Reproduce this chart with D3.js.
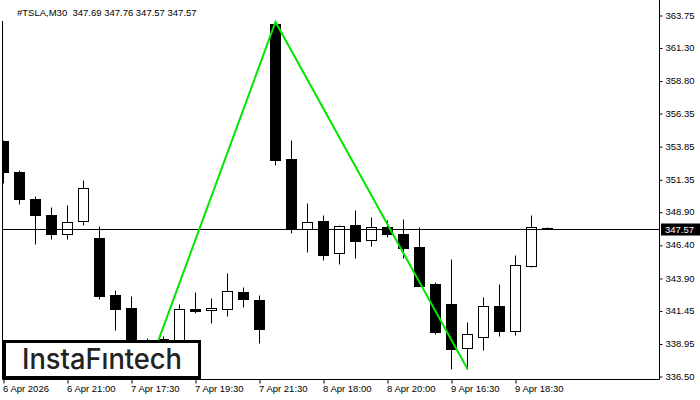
<!DOCTYPE html>
<html>
<head>
<meta charset="utf-8">
<script src="https://cdn.jsdelivr.net/npm/d3@7"></script>
<style>
  html, body { margin: 0; padding: 0; background: #fff; }
</style>
</head>
<body>
<div id="chart"></div>
<script>
const width = 700,
    height = 400
const plot = {left: 3, right: 659, top: 0, bottom: 379}

// M30 bars, TSLA
const times = ['6 Apr 19:00', '6 Apr 19:30', '6 Apr 20:00', '6 Apr 20:30', '6 Apr 21:00', '6 Apr 21:30', '6 Apr 22:00', '6 Apr 22:30',
    '7 Apr 17:30', '7 Apr 18:00', '7 Apr 18:30', '7 Apr 19:00', '7 Apr 19:30', '7 Apr 20:00', '7 Apr 20:30', '7 Apr 21:00',
    '7 Apr 21:30', '7 Apr 22:00', '7 Apr 22:30', '8 Apr 17:30', '8 Apr 18:00', '8 Apr 18:30', '8 Apr 19:00', '8 Apr 19:30',
    '8 Apr 20:00', '8 Apr 20:30', '8 Apr 21:00', '8 Apr 21:30', '9 Apr 16:30', '9 Apr 17:00', '9 Apr 17:30', '9 Apr 18:00',
    '9 Apr 18:30', '9 Apr 19:00', '9 Apr 19:30']
const open = [354.24, 351.90, 349.86, 348.65, 347.22, 348.20, 346.92, 342.61, 341.63, 338.50, 339.29, 339.22,
    341.56, 341.48, 341.56, 342.84, 342.24, 363.07, 352.88, 347.60, 348.20, 345.78, 347.90, 346.77,
    347.75, 347.22, 346.24, 343.44, 341.93, 338.61, 339.44, 341.78, 339.90, 344.80, 347.69]
const high = [354.30, 352.05, 350.09, 349.26, 349.41, 351.29, 347.82, 342.99, 342.54, 339.37, 339.52, 341.93,
    342.84, 342.39, 344.27, 343.22, 342.61, 363.22, 354.31, 349.56, 348.65, 347.90, 349.03, 348.50,
    348.28, 348.35, 347.75, 343.60, 345.33, 340.58, 342.46, 343.44, 345.63, 348.65, 347.76]
const low = [351.07, 349.48, 346.46, 346.84, 346.84, 347.90, 342.31, 339.97, 338.01, 336.95, 338.60, 339.07,
    341.26, 340.50, 341.03, 341.71, 338.99, 352.43, 347.29, 345.86, 345.26, 344.95, 345.41, 346.31,
    346.99, 345.41, 343.29, 339.67, 337.03, 337.03, 338.46, 339.52, 339.59, 344.73, 347.57]
const close = [351.90, 349.86, 348.65, 347.22, 348.12, 350.69, 342.54, 341.56, 338.46, 338.90, 339.14, 341.56,
    341.41, 341.63, 342.92, 342.31, 340.05, 352.80, 347.60, 348.12, 345.63, 347.82, 346.69, 347.75,
    347.22, 346.16, 343.29, 339.82, 338.54, 339.67, 341.78, 339.90, 344.88, 347.75, 347.57]

const yTicks = [363.75, 361.30, 358.80, 356.35, 353.85, 351.35, 348.90, 346.40, 343.90, 341.45, 338.95, 336.50]
const xTickIndex = [0, 4, 8, 12, 16, 20, 24, 28, 32]
const xTickLabels = ['6 Apr 2026', '6 Apr 21:00', '7 Apr 17:30', '7 Apr 19:30', '7 Apr 21:30', '8 Apr 18:00', '8 Apr 20:00', '9 Apr 16:30', '9 Apr 18:30']

// pattern points (bar index, price)
const patternIndex = [9, 17, 29]
const patternPrice = [336.95, 363.22, 337.03]

const symbol = '#TSLA,M30'
const lastPrice = 347.57

const bars = times.map(function (t, i) {
    return {i: i, time: t, o: open[i], h: high[i], l: low[i], c: close[i]}
})

const svg = d3.select('#chart')
    .append('svg')
    .attr('width', width)
    .attr('height', height)
    .style('font-family', '"Liberation Sans", Arial, sans-serif')

const x = d3.scaleLinear()
    .domain([0, 34])
    .range([3.5, 547.5])

const y = d3.scaleLinear()
    .domain([336.50, 363.75])
    .range([376, 15])

const py = function (v) {
    return Math.round(y(v)) + 0.5
}

svg.append('clipPath').attr('id', 'plotClip')
    .append('rect')
    .attr('x', plot.left)
    .attr('y', plot.top)
    .attr('width', plot.right - plot.left)
    .attr('height', plot.bottom - plot.top)

const candles = svg.append('g')
    .attr('clip-path', 'url(#plotClip)')
    .selectAll('g')
    .data(bars)
    .enter().append('g')

candles.append('line')
    .attr('x1', function (d) { return x(d.i) })
    .attr('x2', function (d) { return x(d.i) })
    .attr('y1', function (d) { return py(d.h) })
    .attr('y2', function (d) { return py(d.l) })
    .attr('stroke', '#000')
    .attr('stroke-width', 1)

candles.append('rect')
    .attr('x', function (d) { return x(d.i) - 5 })
    .attr('width', 10)
    .attr('y', function (d) { return Math.min(py(d.o), py(d.c)) })
    .attr('height', function (d) { return Math.max(1, Math.abs(py(d.o) - py(d.c))) })
    .attr('fill', function (d) { return d.c < d.o ? '#000' : '#fff' })
    .attr('stroke', '#000')
    .attr('stroke-width', 1)

// bid line
svg.append('line')
    .attr('x1', plot.left)
    .attr('x2', plot.right)
    .attr('y1', py(lastPrice))
    .attr('y2', py(lastPrice))
    .attr('stroke', '#000')
    .attr('stroke-width', 1)

// pattern
svg.append('path')
    .datum(patternIndex.map(function (d, i) { return [d, patternPrice[i]] }))
    .attr('fill', 'none')
    .attr('stroke', '#00e600')
    .attr('stroke-width', 2)
    .attr('d', d3.line()
        .x(function (d) { return x(d[0]) })
        .y(function (d) { return y(d[1]) }))

// frame
svg.append('path')
    .attr('d', 'M' + (plot.left - 0.5) + ',21V' + (plot.bottom + 0.5) + 'H' + (plot.right + 0.5) + 'V0')
    .attr('fill', 'none')
    .attr('stroke', '#000')
    .attr('stroke-width', 1)

// axes
const yAxis = svg.append('g')
    .attr('transform', 'translate(' + (plot.right + 0.5) + ',0)')
    .call(d3.axisRight(y).tickValues(yTicks).tickSize(3).tickPadding(3).tickFormat(d3.format('.2f')))
yAxis.select('.domain').remove()
yAxis.selectAll('text').attr('font-size', 9.5).attr('fill', '#000').attr('font-family', '"Liberation Sans", Arial, sans-serif')
yAxis.selectAll('.tick line').attr('transform', 'translate(0,0.5)')

const xAxis = svg.append('g')
    .attr('transform', 'translate(0,' + (plot.bottom + 0.5) + ')')
    .call(d3.axisBottom(x).tickValues(xTickIndex).tickSize(4).tickPadding(2)
        .tickFormat(function (d, i) { return xTickLabels[i] }))
xAxis.select('.domain').remove()
xAxis.selectAll('text')
    .attr('text-anchor', 'start')
    .attr('dx', -1)
    .attr('font-size', 9.5)
    .attr('fill', '#000')
    .attr('font-family', '"Liberation Sans", Arial, sans-serif')

// current price tag
svg.append('rect')
    .attr('x', plot.right + 2)
    .attr('y', py(lastPrice) - 6)
    .attr('width', width - plot.right - 2)
    .attr('height', 12)
    .attr('fill', '#000')
svg.append('text')
    .attr('x', plot.right + 6)
    .attr('y', py(lastPrice) + 3.5)
    .attr('font-size', 9.5)
    .attr('fill', '#fff')
    .text(d3.format('.2f')(lastPrice))

// title
svg.append('text')
    .attr('x', 17)
    .attr('y', 16)
    .attr('font-size', 9.5)
    .attr('fill', '#000')
    .style('white-space', 'pre')
    .text(symbol + '  ' + [open[34], high[34], low[34], close[34]].map(d3.format('.2f')).join(' '))

// logo
svg.append('rect')
    .attr('x', 4.5)
    .attr('y', 341.5)
    .attr('width', 195)
    .attr('height', 36)
    .attr('fill', '#fff')
    .attr('stroke', '#000')
    .attr('stroke-width', 3)
svg.append('text')
    .attr('x', 22)
    .attr('y', 369)
    .attr('font-family', 'Inter, Lato, sans-serif')
    .attr('font-weight', 500)
    .attr('font-size', 28)
    .attr('fill', '#222')
    .attr('textLength', 160)
    .attr('lengthAdjust', 'spacingAndGlyphs')
    .text('InstaF\u0131ntech')
</script>
</body>
</html>
